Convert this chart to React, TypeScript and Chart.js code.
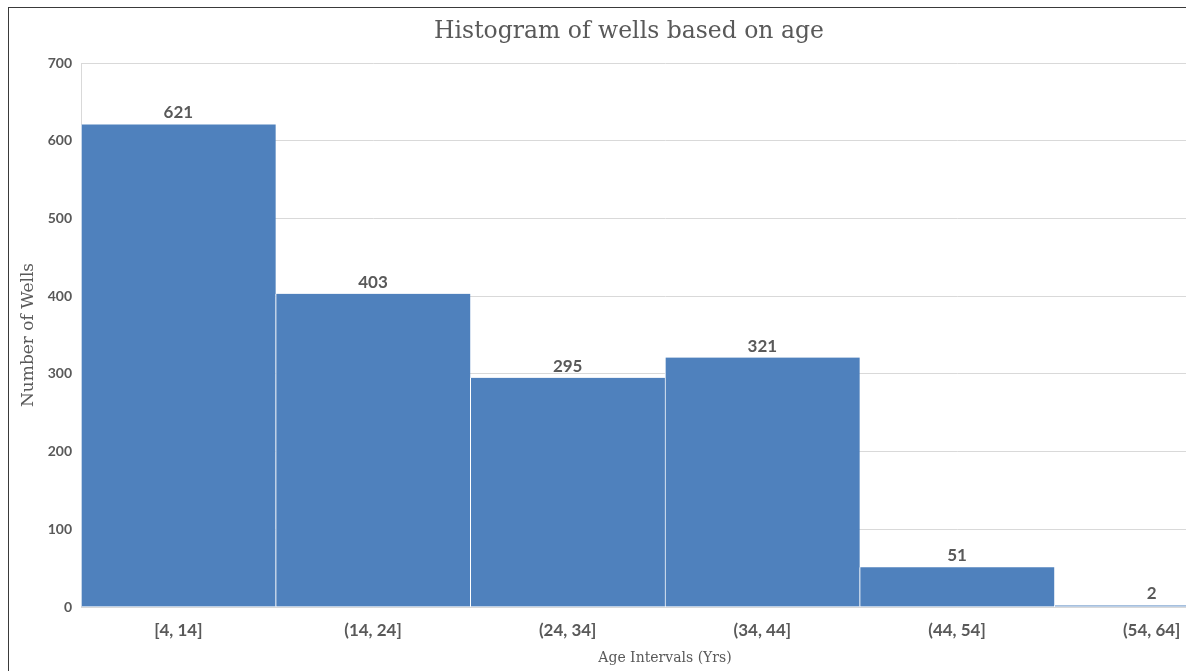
import React, { useEffect, useRef } from "react";
import { Chart, registerables } from "chart.js";

Chart.register(...registerables);

const ageIntervals = ["[4, 14]", "(14, 24]", "(24, 34]", "(34, 44]", "(44, 54]", "(54, 64]"];
const wellCounts = [621, 403, 295, 321, 51, 2];
const yTickValues = [0, 100, 200, 300, 400, 500, 600, 700];

const chartTitle = "Histogram of wells based on age";
const xAxisTitle = "Age Intervals (Yrs)";
const yAxisTitle = "Number of Wells";

const BAR_COLOR = "#4f81bd";
const TEXT_COLOR = "#595959";
const GRID_COLOR = "#d9d9d9";
const SERIF = "'DejaVu Serif', 'Liberation Serif', serif";
const SANS = "Lato, 'Open Sans', sans-serif";

// Writes each bin's count just above its bar
const valueLabels = {
  id: "valueLabels",
  afterDatasetsDraw(chart: any) {
    const { ctx } = chart;
    const meta = chart.getDatasetMeta(0);
    ctx.save();
    ctx.font = `bold 17px ${SANS}`;
    ctx.fillStyle = TEXT_COLOR;
    ctx.textAlign = "center";
    ctx.textBaseline = "bottom";
    meta.data.forEach((bar: any, i: number) => {
      const v = chart.data.datasets[0].data[i];
      ctx.fillText(String(v), bar.x, bar.y - 3);
    });
    ctx.restore();
  },
};

export default function App() {
  const canvasRef = useRef<HTMLCanvasElement | null>(null);

  useEffect(() => {
    if (!canvasRef.current) return;
    const chart = new Chart(canvasRef.current, {
      type: "bar",
      data: {
        labels: ageIntervals,
        datasets: [
          {
            data: wellCounts,
            backgroundColor: BAR_COLOR,
            borderColor: "#ffffff",
            borderWidth: { left: 1, right: 0, top: 0, bottom: 0 },
            borderSkipped: false,
            categoryPercentage: 1,
            barPercentage: 1,
          },
        ],
      },
      options: {
        animation: false,
        responsive: false,
        maintainAspectRatio: false,
        layout: { padding: { top: 0, left: 0, right: 9, bottom: 0 } },
        plugins: {
          legend: { display: false },
          tooltip: { enabled: false },
          title: {
            display: true,
            text: chartTitle,
            color: TEXT_COLOR,
            font: { family: SERIF, size: 23.5, weight: "normal", lineHeight: 1.2 },
            padding: { top: 9.9, bottom: 16.9 },
          },
        },
        scales: {
          x: {
            grid: { display: false, drawTicks: false },
            border: { display: true, color: GRID_COLOR, width: 1 },
            ticks: {
              color: TEXT_COLOR,
              font: { family: SANS, size: 17, weight: "bold" },
              padding: 13,
              maxRotation: 0,
            },
            title: {
              display: true,
              text: xAxisTitle,
              color: TEXT_COLOR,
              font: { family: SERIF, size: 14, lineHeight: 1.2 },
              padding: { top: 0, bottom: 4.6 },
            },
            afterFit(scale: any) {
              scale.height = 64;
            },
          },
          y: {
            min: 0,
            max: 700,
            afterBuildTicks(scale: any) {
              scale.ticks = yTickValues.map((v) => ({ value: v }));
            },
            grid: { color: GRID_COLOR, drawTicks: false, lineWidth: 1 },
            border: { display: true, color: GRID_COLOR, width: 1 },
            ticks: {
              color: TEXT_COLOR,
              font: { family: SANS, size: 14, weight: "bold" },
              padding: 9,
            },
            title: {
              display: true,
              text: yAxisTitle,
              color: TEXT_COLOR,
              font: { family: SERIF, size: 17, lineHeight: 1.2 },
              padding: { top: 9, bottom: 0 },
            },
            afterFit(scale: any) {
              scale.width = 72;
            },
          },
        },
      },
      plugins: [valueLabels],
    });
    return () => chart.destroy();
  }, []);

  return (
    <div
      style={{
        position: "fixed",
        left: 8,
        top: 7,
        width: 1178,
        height: 664,
        overflow: "hidden",
        borderTop: "1px solid #3a3a3a",
        borderLeft: "1px solid #3a3a3a",
        background: "#ffffff",
        boxSizing: "border-box",
      }}
    >
      <canvas ref={canvasRef} width={1249} height={663} style={{ display: "block" }} />
    </div>
  );
}
